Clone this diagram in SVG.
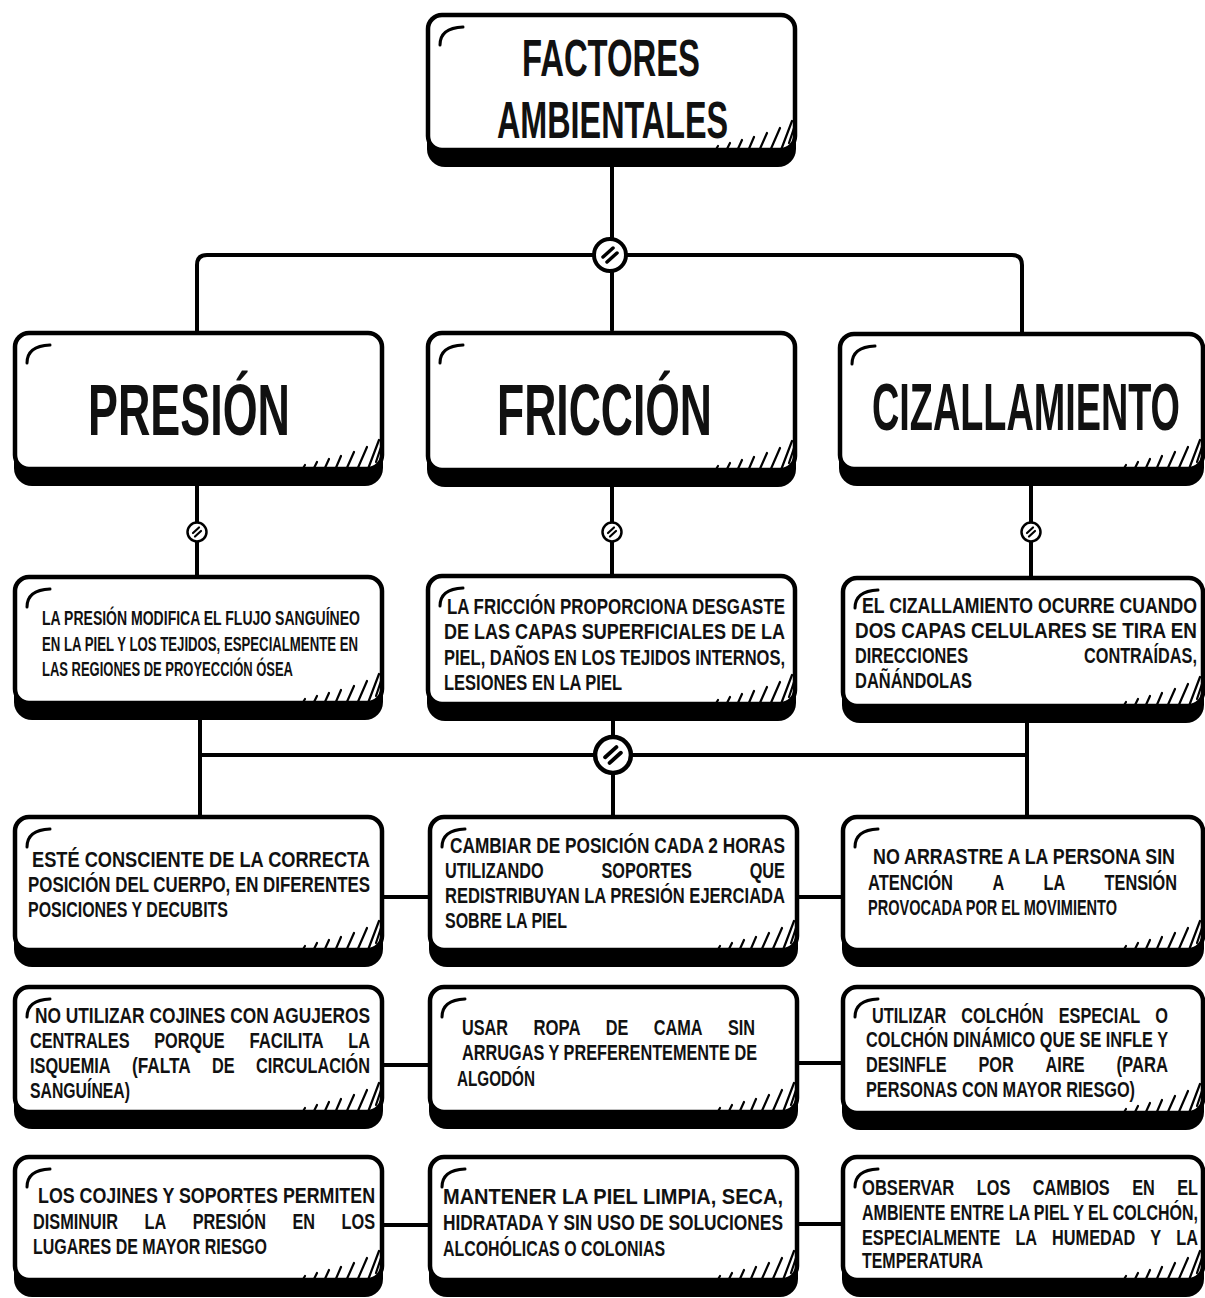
<svg xmlns="http://www.w3.org/2000/svg" xmlns:xlink="http://www.w3.org/1999/xlink" width="1205" height="1298" viewBox="0 0 1205 1298">
<style>
.sh{fill:#000}
.bx{fill:#fff;stroke:#000;stroke-width:4.5}
.cm{fill:none;stroke:#000;stroke-width:3;stroke-linecap:round}
.ht{fill:none;stroke:#000;stroke-width:2.2;stroke-linecap:round}
.ln{fill:none;stroke:#000;stroke-width:4;stroke-linecap:round;stroke-linejoin:round}
.kc{fill:#fff;stroke:#000}
.kh{stroke:#000;stroke-linecap:round}
.t{font-family:"Liberation Sans",Arial,sans-serif;font-weight:bold;fill:#111}
.ti{font-size:51px}
.hd{font-size:72px}
.bd{font-size:22px}
.e{text-anchor:end}
</style>
<defs>
<path id="cm" class="cm" d="M0,18 Q0,1 23,0"/>
<path id="ht" class="ht" d="M-80,-16 l3,-5 M-69,-16 l4,-8 M-58,-16 l5,-11 M-47,-16 l6,-14 M-36,-16 l8,-18 M-25,-16 l10,-23 M-14,-17 l11,-29 M-6,-24 l6,-18"/>
<g id="kL"><circle class="kc" r="16" stroke-width="4"/><path class="kh" stroke-width="3.5" d="M-7,2 L3,-7 M-3,7 L7,-2"/></g>
<g id="kS"><circle class="kc" r="9.5" stroke-width="2.5"/><path class="kh" stroke-width="2.2" d="M-4,1 L2,-4.5 M-2,4.5 L4,-1"/></g>
</defs>

<g id="connectors">
<path class="ln" d="M612,165 V330"/>
<path class="ln" d="M197,333 V265 Q197,255 207,255 H1012 Q1022,255 1022,265 V335"/>
<path class="ln" d="M197,486 V577 M612,487 V576 M1031,486 V578"/>
<path class="ln" d="M200,720 V817 M613,721 V817 M1027,723 V817 M200,755 H1027"/>
<path class="ln" d="M382,897 H430 M797,897 H843"/>
<path class="ln" d="M382,1065 H430 M797,1063 H843"/>
<path class="ln" d="M382,1225 H430 M797,1224 H843"/>
<use href="#kL" x="610" y="255"/>
<use href="#kL" transform="translate(613,755) scale(1.12)"/>
<use href="#kS" x="197" y="532"/>
<use href="#kS" x="612" y="532"/>
<use href="#kS" x="1031" y="532"/>
</g>

<g id="n-factores">
<rect class="sh" x="427" y="91" width="369" height="76" rx="18"/>
<rect class="bx" x="428" y="15" width="367" height="135" rx="14"/>
<use href="#cm" x="440" y="27"/><use href="#ht" x="795" y="167"/>
<text class="t ti" x="522" y="76" textLength="178" lengthAdjust="spacingAndGlyphs">FACTORES</text>
<text class="t ti" x="497" y="138" textLength="231" lengthAdjust="spacingAndGlyphs">AMBIENTALES</text>
</g>

<g id="n-presion">
<rect class="sh" x="14" y="410" width="369" height="76" rx="18"/>
<rect class="bx" x="15" y="333" width="367" height="136" rx="14"/>
<use href="#cm" x="27" y="345"/><use href="#ht" x="382" y="486"/>
<text class="t hd" x="88" y="435" textLength="202" lengthAdjust="spacingAndGlyphs">PRESIÓN</text>
</g>

<g id="n-friccion">
<rect class="sh" x="427" y="410" width="369" height="77" rx="18"/>
<rect class="bx" x="428" y="333" width="367" height="137" rx="14"/>
<use href="#cm" x="440" y="345"/><use href="#ht" x="795" y="487"/>
<text class="t hd" x="497" y="435" textLength="215" lengthAdjust="spacingAndGlyphs">FRICCIÓN</text>
</g>

<g id="n-cizallamiento">
<rect class="sh" x="839" y="410" width="365" height="76" rx="18"/>
<rect class="bx" x="840" y="334" width="363" height="135" rx="14"/>
<use href="#cm" x="852" y="346"/><use href="#ht" x="1203" y="486"/>
<text class="t" font-size="67" x="872" y="430" textLength="308" lengthAdjust="spacingAndGlyphs">CIZALLAMIENTO</text>
</g>

<g id="n-presion-desc">
<rect class="sh" x="14" y="648" width="369" height="72" rx="18"/>
<rect class="bx" x="15" y="577" width="367" height="126" rx="14"/>
<use href="#cm" x="27" y="589"/><use href="#ht" x="382" y="720"/>
<text class="t" font-size="21" x="42" y="625" textLength="318" lengthAdjust="spacingAndGlyphs">LA PRESIÓN MODIFICA EL FLUJO SANGUÍNEO</text>
<text class="t" font-size="21" x="42" y="651" textLength="316" lengthAdjust="spacingAndGlyphs">EN LA PIEL Y LOS TEJIDOS, ESPECIALMENTE EN</text>
<text class="t" font-size="21" x="42" y="676" textLength="251" lengthAdjust="spacingAndGlyphs">LAS REGIONES DE PROYECCIÓN ÓSEA</text>
</g>

<g id="n-friccion-desc">
<rect class="sh" x="427" y="648" width="369" height="73" rx="18"/>
<rect class="bx" x="428" y="576" width="367" height="128" rx="14"/>
<use href="#cm" x="440" y="588"/><use href="#ht" x="795" y="721"/>
<text class="t bd" x="447" y="614" textLength="338" lengthAdjust="spacingAndGlyphs">LA FRICCIÓN PROPORCIONA DESGASTE</text>
<text class="t bd" x="444" y="639" textLength="341" lengthAdjust="spacingAndGlyphs">DE LAS CAPAS SUPERFICIALES DE LA</text>
<text class="t bd" x="444" y="665" textLength="341" lengthAdjust="spacingAndGlyphs">PIEL, DAÑOS EN LOS TEJIDOS INTERNOS,</text>
<text class="t bd" x="444" y="690" textLength="178" lengthAdjust="spacingAndGlyphs">LESIONES EN LA PIEL</text>
</g>

<g id="n-cizallamiento-desc">
<rect class="sh" x="842" y="650" width="362" height="73" rx="18"/>
<rect class="bx" x="843" y="578" width="360" height="128" rx="14"/>
<use href="#cm" x="855" y="590"/><use href="#ht" x="1203" y="723"/>
<text class="t bd" x="862" y="613" textLength="335" lengthAdjust="spacingAndGlyphs">EL CIZALLAMIENTO OCURRE CUANDO</text>
<text class="t bd" x="855" y="638" textLength="342" lengthAdjust="spacingAndGlyphs">DOS CAPAS CELULARES SE TIRA EN</text>
<text class="t bd" x="855" y="663" textLength="113" lengthAdjust="spacingAndGlyphs">DIRECCIONES</text>
<text class="t bd" x="1084" y="663" textLength="113" lengthAdjust="spacingAndGlyphs">CONTRAÍDAS,</text>
<text class="t bd" x="855" y="688" textLength="117" lengthAdjust="spacingAndGlyphs">DAÑÁNDOLAS</text>
</g>

<g id="n-p1">
<rect class="sh" x="14" y="892" width="369" height="75" rx="18"/>
<rect class="bx" x="15" y="817" width="367" height="133" rx="14"/>
<use href="#cm" x="27" y="829"/><use href="#ht" x="382" y="967"/>
<text class="t bd" x="32" y="867" textLength="338" lengthAdjust="spacingAndGlyphs">ESTÉ CONSCIENTE DE LA CORRECTA</text>
<text class="t bd" x="28" y="892" textLength="342" lengthAdjust="spacingAndGlyphs">POSICIÓN DEL CUERPO, EN DIFERENTES</text>
<text class="t bd" x="28" y="917" textLength="200" lengthAdjust="spacingAndGlyphs">POSICIONES Y DECUBITS</text>
</g>

<g id="n-f1">
<rect class="sh" x="429" y="892" width="369" height="75" rx="18"/>
<rect class="bx" x="430" y="817" width="367" height="133" rx="14"/>
<use href="#cm" x="442" y="829"/><use href="#ht" x="797" y="967"/>
<text class="t bd" x="450" y="853" textLength="335" lengthAdjust="spacingAndGlyphs">CAMBIAR DE POSICIÓN CADA 2 HORAS</text>
<text class="t bd" x="445" y="878" textLength="98.6" lengthAdjust="spacingAndGlyphs">UTILIZANDO</text>
<text class="t bd" x="601.5" y="878" textLength="90.4" lengthAdjust="spacingAndGlyphs">SOPORTES</text>
<text class="t bd" x="749.7" y="878" textLength="35.3" lengthAdjust="spacingAndGlyphs">QUE</text>
<text class="t bd" x="445" y="903" textLength="340" lengthAdjust="spacingAndGlyphs">REDISTRIBUYAN LA PRESIÓN EJERCIADA</text>
<text class="t bd" x="445" y="928" textLength="122" lengthAdjust="spacingAndGlyphs">SOBRE LA PIEL</text>
</g>

<g id="n-c1">
<rect class="sh" x="842" y="892" width="362" height="75" rx="18"/>
<rect class="bx" x="843" y="817" width="360" height="133" rx="14"/>
<use href="#cm" x="855" y="829"/><use href="#ht" x="1203" y="967"/>
<text class="t bd" x="873" y="864" textLength="302" lengthAdjust="spacingAndGlyphs">NO ARRASTRE A LA PERSONA SIN</text>
<text class="t bd" x="868" y="890" textLength="85" lengthAdjust="spacingAndGlyphs">ATENCIÓN</text>
<text class="t bd" x="992.4" y="890" textLength="11.7" lengthAdjust="spacingAndGlyphs">A</text>
<text class="t bd" x="1043.5" y="890" textLength="21.7" lengthAdjust="spacingAndGlyphs">LA</text>
<text class="t bd" x="1104.6" y="890" textLength="72.4" lengthAdjust="spacingAndGlyphs">TENSIÓN</text>
<text class="t bd" x="868" y="915" textLength="249" lengthAdjust="spacingAndGlyphs">PROVOCADA POR EL MOVIMIENTO</text>
</g>

<g id="n-p2">
<rect class="sh" x="14" y="1058" width="369" height="71" rx="18"/>
<rect class="bx" x="15" y="987" width="367" height="125" rx="14"/>
<use href="#cm" x="27" y="999"/><use href="#ht" x="382" y="1129"/>
<text class="t bd" x="35" y="1023" textLength="335" lengthAdjust="spacingAndGlyphs">NO UTILIZAR COJINES CON AGUJEROS</text>
<text class="t bd" x="30" y="1048" textLength="99.5" lengthAdjust="spacingAndGlyphs">CENTRALES</text>
<text class="t bd" x="154.2" y="1048" textLength="70.5" lengthAdjust="spacingAndGlyphs">PORQUE</text>
<text class="t bd" x="249.4" y="1048" textLength="74.2" lengthAdjust="spacingAndGlyphs">FACILITA</text>
<text class="t bd" x="348.3" y="1048" textLength="21.7" lengthAdjust="spacingAndGlyphs">LA</text>
<text class="t bd" x="30" y="1073" textLength="80.5" lengthAdjust="spacingAndGlyphs">ISQUEMIA</text>
<text class="t bd" x="131.9" y="1073" textLength="58.8" lengthAdjust="spacingAndGlyphs">(FALTA</text>
<text class="t bd" x="212.1" y="1073" textLength="22.6" lengthAdjust="spacingAndGlyphs">DE</text>
<text class="t bd" x="256" y="1073" textLength="114" lengthAdjust="spacingAndGlyphs">CIRCULACIÓN</text>
<text class="t bd" x="30" y="1098" textLength="100" lengthAdjust="spacingAndGlyphs">SANGUÍNEA)</text>
</g>

<g id="n-f2">
<rect class="sh" x="429" y="1058" width="369" height="71" rx="18"/>
<rect class="bx" x="430" y="987" width="367" height="125" rx="14"/>
<use href="#cm" x="442" y="999"/><use href="#ht" x="797" y="1129"/>
<text class="t bd" x="462" y="1035" textLength="46.1" lengthAdjust="spacingAndGlyphs">USAR</text>
<text class="t bd" x="533.5" y="1035" textLength="47" lengthAdjust="spacingAndGlyphs">ROPA</text>
<text class="t bd" x="605.8" y="1035" textLength="22.6" lengthAdjust="spacingAndGlyphs">DE</text>
<text class="t bd" x="653.8" y="1035" textLength="48.8" lengthAdjust="spacingAndGlyphs">CAMA</text>
<text class="t bd" x="727.9" y="1035" textLength="27.1" lengthAdjust="spacingAndGlyphs">SIN</text>
<text class="t bd" x="462" y="1060" textLength="295" lengthAdjust="spacingAndGlyphs">ARRUGAS Y PREFERENTEMENTE DE</text>
<text class="t bd" x="457" y="1086" textLength="78" lengthAdjust="spacingAndGlyphs">ALGODÓN</text>
</g>

<g id="n-c2">
<rect class="sh" x="842" y="1058" width="362" height="72" rx="18"/>
<rect class="bx" x="843" y="987" width="360" height="126" rx="14"/>
<use href="#cm" x="855" y="999"/><use href="#ht" x="1203" y="1130"/>
<text class="t bd" x="872" y="1023" textLength="74.2" lengthAdjust="spacingAndGlyphs">UTILIZAR</text>
<text class="t bd" x="961.3" y="1023" textLength="82.3" lengthAdjust="spacingAndGlyphs">COLCHÓN</text>
<text class="t bd" x="1058.7" y="1023" textLength="81.4" lengthAdjust="spacingAndGlyphs">ESPECIAL</text>
<text class="t bd" x="1155.3" y="1023" textLength="12.7" lengthAdjust="spacingAndGlyphs">O</text>
<text class="t bd" x="866" y="1047" textLength="302" lengthAdjust="spacingAndGlyphs">COLCHÓN DINÁMICO QUE SE INFLE Y</text>
<text class="t bd" x="866" y="1072" textLength="80.5" lengthAdjust="spacingAndGlyphs">DESINFLE</text>
<text class="t bd" x="978.4" y="1072" textLength="35.3" lengthAdjust="spacingAndGlyphs">POR</text>
<text class="t bd" x="1045.6" y="1072" textLength="38.9" lengthAdjust="spacingAndGlyphs">AIRE</text>
<text class="t bd" x="1116.5" y="1072" textLength="51.5" lengthAdjust="spacingAndGlyphs">(PARA</text>
<text class="t bd" x="866" y="1097" textLength="269" lengthAdjust="spacingAndGlyphs">PERSONAS CON MAYOR RIESGO)</text>
</g>

<g id="n-p3">
<rect class="sh" x="14" y="1227" width="369" height="70" rx="18"/>
<rect class="bx" x="15" y="1157" width="367" height="123" rx="14"/>
<use href="#cm" x="27" y="1169"/><use href="#ht" x="382" y="1297"/>
<text class="t bd" x="38" y="1203" textLength="337" lengthAdjust="spacingAndGlyphs">LOS COJINES Y SOPORTES PERMITEN</text>
<text class="t bd" x="33" y="1229" textLength="85" lengthAdjust="spacingAndGlyphs">DISMINUIR</text>
<text class="t bd" x="144.5" y="1229" textLength="21.7" lengthAdjust="spacingAndGlyphs">LA</text>
<text class="t bd" x="192.7" y="1229" textLength="73.3" lengthAdjust="spacingAndGlyphs">PRESIÓN</text>
<text class="t bd" x="292.5" y="1229" textLength="22.6" lengthAdjust="spacingAndGlyphs">EN</text>
<text class="t bd" x="341.5" y="1229" textLength="33.5" lengthAdjust="spacingAndGlyphs">LOS</text>
<text class="t bd" x="33" y="1254" textLength="234" lengthAdjust="spacingAndGlyphs">LUGARES DE MAYOR RIESGO</text>
</g>

<g id="n-f3">
<rect class="sh" x="429" y="1227" width="369" height="70" rx="18"/>
<rect class="bx" x="430" y="1157" width="367" height="123" rx="14"/>
<use href="#cm" x="442" y="1169"/><use href="#ht" x="797" y="1297"/>
<text class="t bd" x="443" y="1204" textLength="340" lengthAdjust="spacingAndGlyphs">MANTENER LA PIEL LIMPIA, SECA,</text>
<text class="t bd" x="443" y="1230" textLength="340" lengthAdjust="spacingAndGlyphs">HIDRATADA Y SIN USO DE SOLUCIONES</text>
<text class="t bd" x="443" y="1256" textLength="222" lengthAdjust="spacingAndGlyphs">ALCOHÓLICAS O COLONIAS</text>
</g>

<g id="n-c3">
<rect class="sh" x="842" y="1227" width="362" height="70" rx="18"/>
<rect class="bx" x="843" y="1157" width="360" height="123" rx="14"/>
<use href="#cm" x="855" y="1169"/><use href="#ht" x="1203" y="1297"/>
<text class="t bd" x="862" y="1195" textLength="92.3" lengthAdjust="spacingAndGlyphs">OBSERVAR</text>
<text class="t bd" x="976.8" y="1195" textLength="33.5" lengthAdjust="spacingAndGlyphs">LOS</text>
<text class="t bd" x="1032.8" y="1195" textLength="76.9" lengthAdjust="spacingAndGlyphs">CAMBIOS</text>
<text class="t bd" x="1132.2" y="1195" textLength="22.6" lengthAdjust="spacingAndGlyphs">EN</text>
<text class="t bd" x="1177.2" y="1195" textLength="20.8" lengthAdjust="spacingAndGlyphs">EL</text>
<text class="t bd" x="862" y="1220" textLength="336" lengthAdjust="spacingAndGlyphs">AMBIENTE ENTRE LA PIEL Y EL COLCHÓN,</text>
<text class="t bd" x="862" y="1245" textLength="138.4" lengthAdjust="spacingAndGlyphs">ESPECIALMENTE</text>
<text class="t bd" x="1015.4" y="1245" textLength="21.7" lengthAdjust="spacingAndGlyphs">LA</text>
<text class="t bd" x="1052.1" y="1245" textLength="83.2" lengthAdjust="spacingAndGlyphs">HUMEDAD</text>
<text class="t bd" x="1150.3" y="1245" textLength="10.9" lengthAdjust="spacingAndGlyphs">Y</text>
<text class="t bd" x="1176.3" y="1245" textLength="21.7" lengthAdjust="spacingAndGlyphs">LA</text>
<text class="t bd" x="862" y="1268" textLength="121" lengthAdjust="spacingAndGlyphs">TEMPERATURA</text>
</g>
</svg>
